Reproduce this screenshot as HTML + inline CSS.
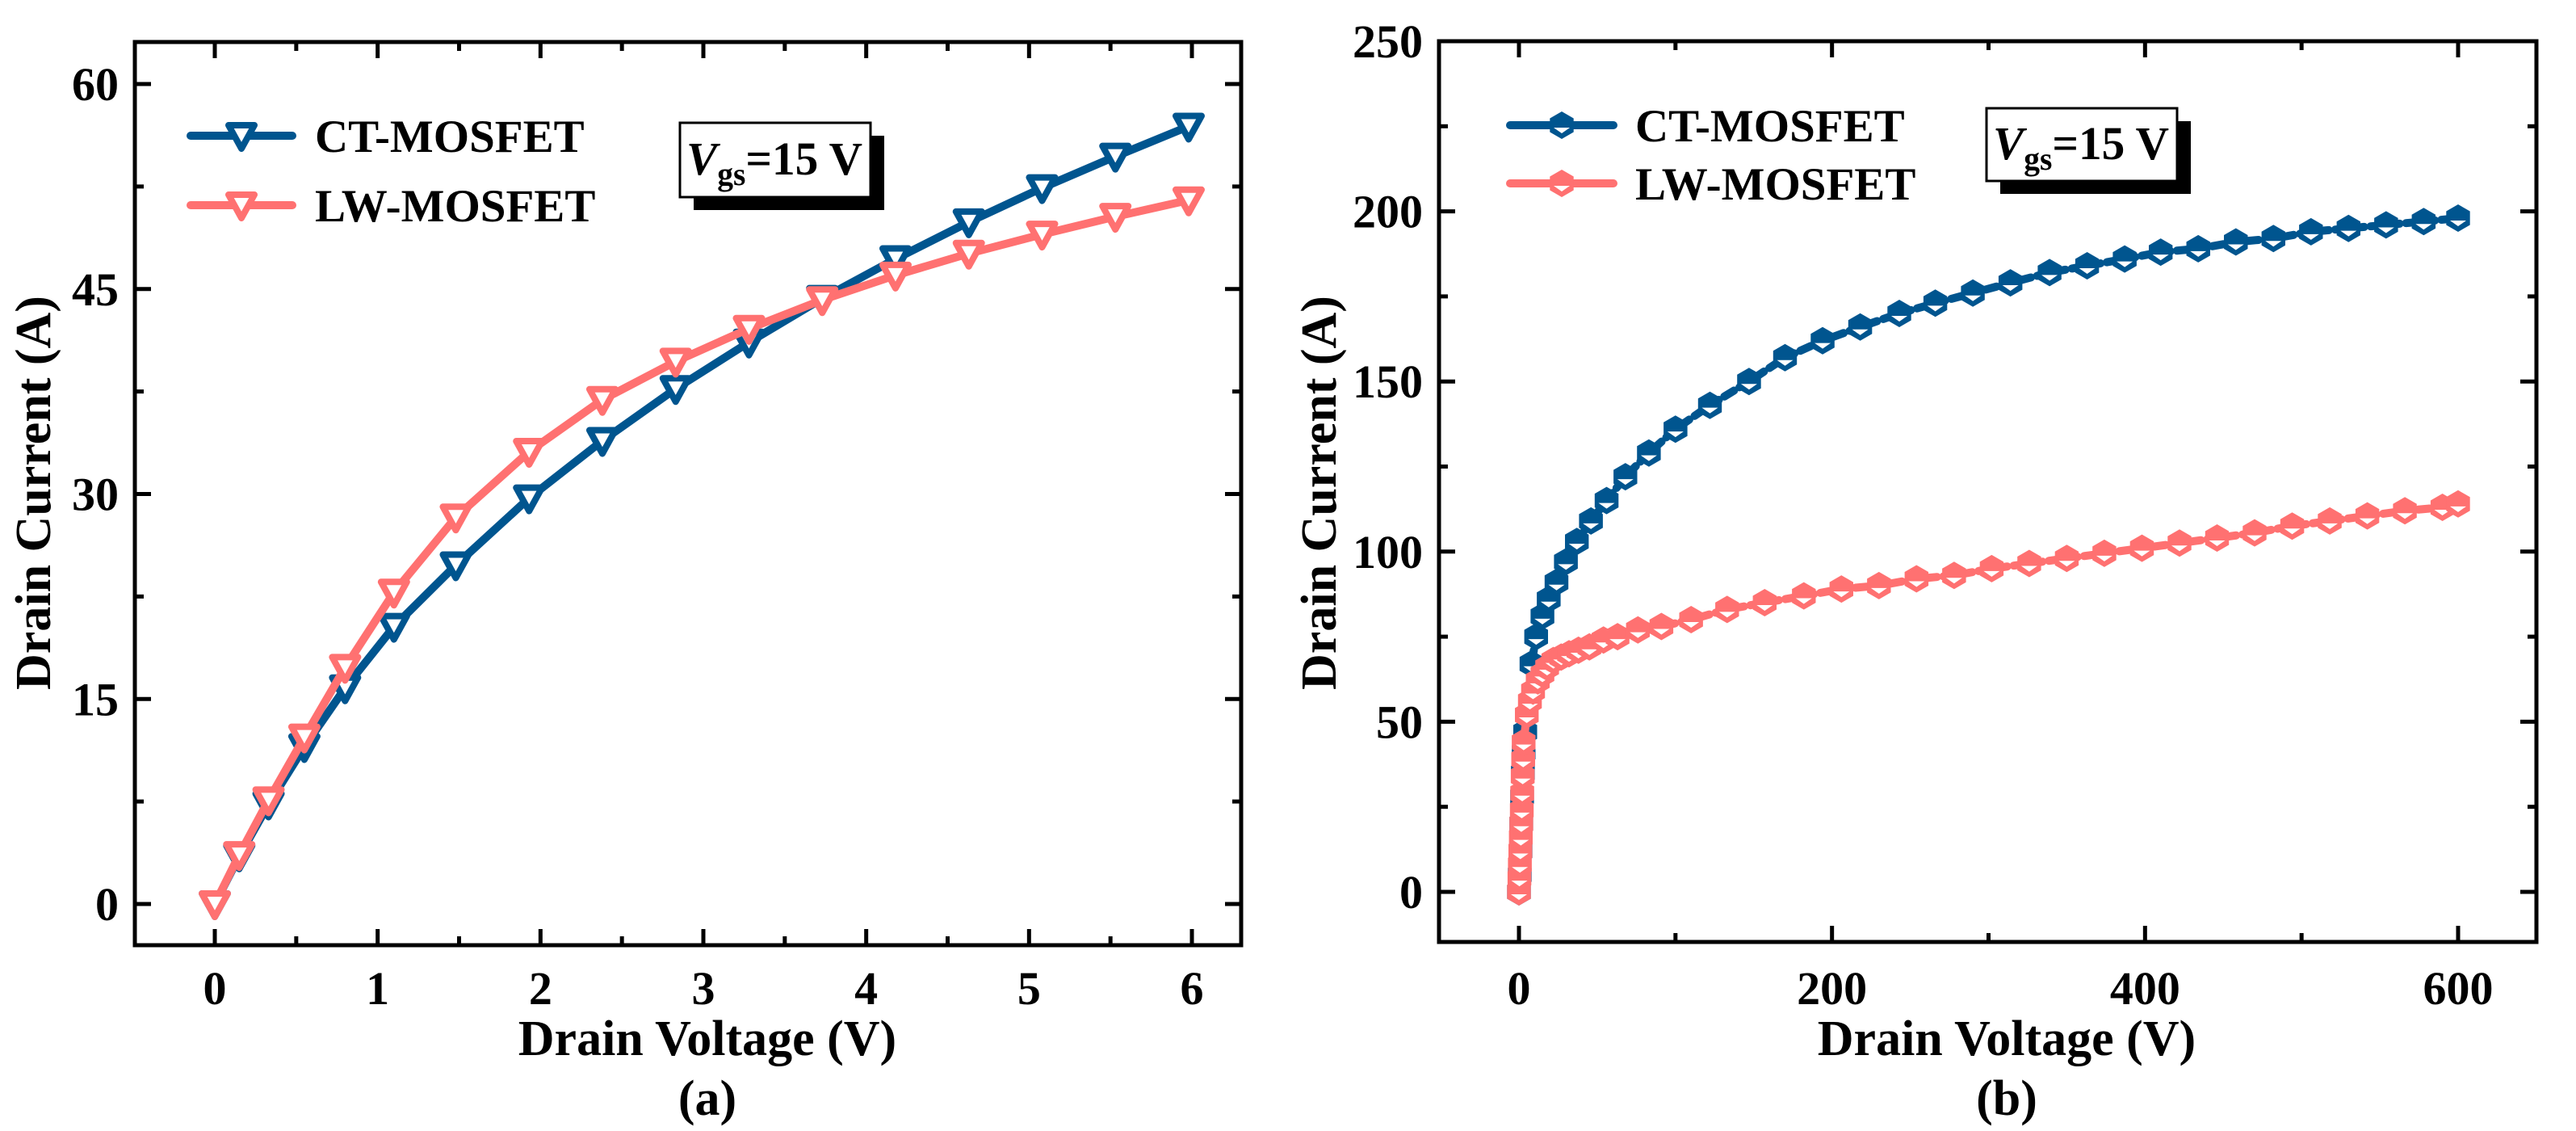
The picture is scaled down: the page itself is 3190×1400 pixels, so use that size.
<!DOCTYPE html>
<html><head><meta charset="utf-8">
<style>
html,body{margin:0;padding:0;background:#fff;}
svg{display:block;font-family:"Liberation Serif",serif;font-weight:bold;}
</style></head>
<body>
<svg id="chart" width="3190" height="1400" viewBox="0 0 3190 1400" xmlns="http://www.w3.org/2000/svg">
<rect width="3190" height="1400" fill="#fff"/>
<g id="pa"></g>
<g id="pb"></g>
</svg>
<script>
// ---------- Panel (a) data ----------
const aVoltsCT = [0,0.15,0.33,0.55,0.8,1.1,1.48,1.93,2.38,2.83,3.28,3.73,4.18,4.63,5.08,5.53,5.98];
const aCurrCT  = [0,3.5,7.3,11.5,15.8,20.3,24.8,29.7,33.9,37.7,41.1,44.3,47.2,49.9,52.4,54.7,56.9];
const aVoltsLW = [0,0.15,0.33,0.55,0.8,1.1,1.48,1.93,2.38,2.83,3.28,3.73,4.18,4.63,5.08,5.53,5.98];
const aCurrLW  = [0,3.6,7.6,12.2,17.3,22.8,28.3,33.1,36.9,39.7,42.1,44.2,46.0,47.6,49.0,50.3,51.5];
const aXTicks = [0,1,2,3,4,5,6];
const aYTicks = [0,15,30,45,60];
// ---------- Panel (b) data ----------
const bVoltsCT = [0,0.5,1,1.5,2,2.5,3,4,8,11,15,19,24,30,37,46,56,68,83,100,122,147,170,194,218,243,266,290,314,339,363,387,410,434,458,482,506,530,554,578,600];
const bCurrCT  = [0,5,12,20,28,35,41,47,67,75,81,86,91,97,103,109,115,122,129,136,143,150,157,162,166,170,173,176,179,182,184,186,188,189,191,192,194,195,196,197,198];
const bVoltsLW = [0,0.3,0.6,0.9,1.2,1.5,1.8,2.1,2.4,2.7,3,5,7,9,12,15,18,22,27,32,38,45,54,63,76,91,110,133,157,182,206,230,254,278,302,326,350,374,398,422,446,470,494,518,542,566,590,600];
const bCurrLW  = [0,4,8,12,16,20,24,29,34,39,44,52,56,59,62,64,66,68,69,70,71,72,74,75,77,78,80,83,85,87,89,90,92,93,95,96.5,98,99.5,101,102.5,104,105.5,107.5,109,110.5,112,113,114];
const bXTicks = [0,200,400,600];
const bYTicks = [0,50,100,150,200,250];

const NS="http://www.w3.org/2000/svg";
const BLUE="#00558f", RED="#ff7171";
function mk(parent,tag,attrs,text){const e=document.createElementNS(NS,tag);for(const k in attrs)e.setAttribute(k,attrs[k]);if(text!==undefined)e.textContent=text;parent.appendChild(e);return e;}

function frame(g,L,R,T,B,xs,ys,xt,yt,xMinor,yMinor){
  const f=mk(g,'rect',{x:L,y:T,width:R-L,height:B-T,fill:'none',stroke:'#000','stroke-width':5});
  
  
  xt.forEach(v=>{const x=xs(v);
    mk(g,'line',{x1:x,y1:B,x2:x,y2:B-20,stroke:'#000','stroke-width':5});
    mk(g,'line',{x1:x,y1:T,x2:x,y2:T+20,stroke:'#000','stroke-width':5});
    const t=mk(g,'text',{x:x,y:1243,'font-size':58,'text-anchor':'middle'},String(v));
    
    
  });
  xMinor.forEach(v=>{const x=xs(v);
    mk(g,'line',{x1:x,y1:B,x2:x,y2:B-11,stroke:'#000','stroke-width':5});
    mk(g,'line',{x1:x,y1:T,x2:x,y2:T+11,stroke:'#000','stroke-width':5});});
  yt.forEach(v=>{const y=ys(v);
    mk(g,'line',{x1:L,y1:y,x2:L+20,y2:y,stroke:'#000','stroke-width':5});
    mk(g,'line',{x1:R,y1:y,x2:R-20,y2:y,stroke:'#000','stroke-width':5});
    const t=mk(g,'text',{x:L-20,y:y+20,'font-size':58,'text-anchor':'end'},String(v));
    
    
  });
  yMinor.forEach(v=>{const y=ys(v);
    mk(g,'line',{x1:L,y1:y,x2:L+11,y2:y,stroke:'#000','stroke-width':5});
    mk(g,'line',{x1:R,y1:y,x2:R-11,y2:y,stroke:'#000','stroke-width':5});});
}
function tri(g,x,y,c){return mk(g,'path',{d:`M${x-16},${y-13} L${x+16},${y-13} L${x},${y+16} Z`,fill:'#fff',stroke:c,'stroke-width':8,'stroke-linejoin':'round'});}
function hex(g,x,y,c){
  const r=17;let d='';for(let i=0;i<6;i++){const a=Math.PI/2+i*Math.PI/3;d+=(i?'L':'M')+(x+r*Math.cos(a)).toFixed(1)+','+(y+r*Math.sin(a)).toFixed(1);}
  const p=mk(g,'path',{d:d+'Z',fill:c});
  mk(g,'path',{d:`M${x-10},${y+3} L${x+10},${y+3} L${x},${y+10} Z`,fill:'#fff'});
  return p;
}
function series(g,xs,ys,X,Y,c,marker,dash,name){
  const pts=X.map((v,i)=>xs(v).toFixed(1)+','+ys(Y[i]).toFixed(1)).join(' ');
  const pl=mk(g,'polyline',{points:pts,fill:'none',stroke:c,'stroke-width':10,'stroke-linejoin':'round','stroke-linecap':'round','stroke-dasharray':dash||'none'});
  
  
  X.forEach((v,i)=>{const m=marker(g,xs(v),ys(Y[i]),c);
    
    });
}
function legend(g,x1,x2,y1,y2,tx,marker){
  [[y1,BLUE,'CT-MOSFET'],[y2,RED,'LW-MOSFET']].forEach(([y,c,s])=>{
    mk(g,'line',{x1:x1,y1:y,x2:x2,y2:y,stroke:c,'stroke-width':10,'stroke-linecap':'round'});
    marker(g,(x1+x2)/2,y,c);
    const t=mk(g,'text',{x:tx,y:y+20,'font-size':57},s);
    
    
  });
}
function vgs(g,x,y,w,h){
  mk(g,'rect',{x:x+17,y:y+16,width:w,height:h,fill:'#000'});
  const b=mk(g,'rect',{x:x,y:y,width:w,height:h,fill:'#fff',stroke:'#000','stroke-width':3});
  
  
  const t=mk(g,'text',{x:x+8,y:y+h/2+18,'font-size':58,textLength:w-18,lengthAdjust:'spacingAndGlyphs'});
  mk(t,'tspan',{'font-style':'italic'},'V');
  mk(t,'tspan',{'font-size':40,dy:13},'gs');
  mk(t,'tspan',{dy:-13},'=15 V');
}

// Panel a
(function(){
  const g=document.getElementById('pa');
  const L=167,R=1537,T=52,B=1170;
  const xs=v=>266+(1476-266)*v/6, ys=v=>1119-(1119-104)*v/60;
  const xm=[0.5,1.5,2.5,3.5,4.5,5.5], ym=[7.5,22.5,37.5,52.5];
  frame(g,L,R,T,B,xs,ys,aXTicks,aYTicks,xm,ym);
  series(g,xs,ys,aVoltsCT,aCurrCT,BLUE,tri,null,'ct-mosfet');
  series(g,xs,ys,aVoltsLW,aCurrLW,RED,tri,null,'lw-mosfet');
  legend(g,236,362,168,254,390,tri);
  vgs(g,842,152,236,92);
  const xt=mk(g,'text',{x:876,y:1306,'font-size':62,'text-anchor':'middle'},'Drain Voltage (V)');
  
  const yt=mk(g,'text',{x:0,y:0,'font-size':62,'text-anchor':'middle',transform:'translate(62,610) rotate(-90)'},'Drain Current (A)');
  
  const c=mk(g,'text',{x:876,y:1380,'font-size':62,'text-anchor':'middle'},'(a)');
  
})();
// Panel b
(function(){
  const g=document.getElementById('pb');
  const L=1782,R=3141,T=51,B=1166;
  const xs=v=>1881+(3044-1881)*v/600, ys=v=>1104-(1104-51)*v/250;
  const xm=[100,300,500], ym=[25,75,125,175,225];
  frame(g,L,R,T,B,xs,ys,bXTicks,bYTicks,xm,ym);
  series(g,xs,ys,bVoltsCT,bCurrCT,BLUE,hex,'14 8','ct-mosfet');
  series(g,xs,ys,bVoltsLW,bCurrLW,RED,hex,'14 8','lw-mosfet');
  legend(g,1870,1998,155,227,2025,hex);
  vgs(g,2460,134,236,90);
  const xt=mk(g,'text',{x:2485,y:1306,'font-size':62,'text-anchor':'middle'},'Drain Voltage (V)');
  
  const yt=mk(g,'text',{x:0,y:0,'font-size':62,'text-anchor':'middle',transform:'translate(1654,610) rotate(-90)'},'Drain Current (A)');
  
  const c=mk(g,'text',{x:2485,y:1380,'font-size':62,'text-anchor':'middle'},'(b)');
  
})();
</script>
</body></html>
